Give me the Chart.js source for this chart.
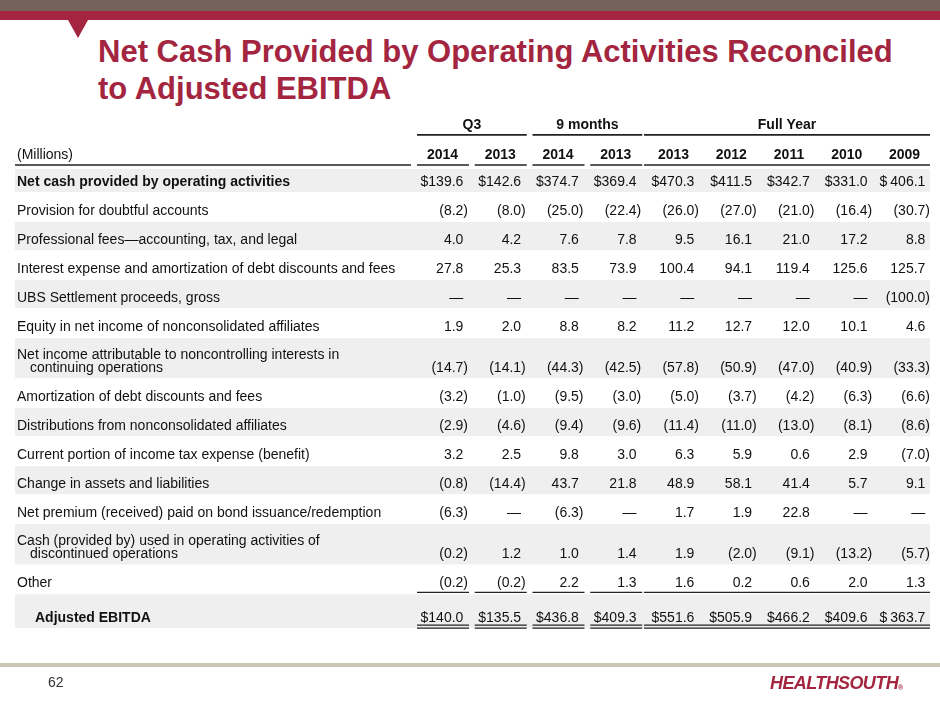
<!DOCTYPE html>
<html>
<head>
<meta charset="utf-8">
<script src="https://cdn.jsdelivr.net/npm/chart.js@4.4.0/dist/chart.umd.min.js"></script>
<style>
  body { margin:0; width:940px; height:705px; overflow:hidden; background:#fff; font-family:"Liberation Sans", Arial, sans-serif; }
  #topbar { position:absolute; left:0; top:0; width:940px; height:11px; background:#736259; }
  #redbar { position:absolute; left:0; top:11px; width:940px; height:9px; background:#a3253f; }
  #notch { position:absolute; left:68px; top:20px; width:0; height:0; border-left:10px solid transparent; border-right:10px solid transparent; border-top:18px solid #a3253f; }
  #title { position:absolute; left:98px; top:33px; font-weight:bold; font-size:31px; line-height:37px; color:#a3253f; white-space:nowrap; }
  #wrap { position:absolute; left:0; top:0; width:940px; height:705px; }
  #footbar { position:absolute; left:0; top:663px; width:940px; height:4px; background:#cdc6b6; }
  #page { position:absolute; left:48px; top:675px; font-size:14px; line-height:14px; color:#333; }
  #logo { position:absolute; left:770px; top:674px; font-size:18px; line-height:18px; font-weight:bold; font-style:italic; color:#a3253f; letter-spacing:-0.6px; }
  #logo span { font-size:7px; font-style:normal; vertical-align:-1px; }
</style>
</head>
<body>
<div id="topbar"></div>
<div id="redbar"></div>
<div id="notch"></div>
<div id="title">Net Cash Provided by Operating Activities Reconciled<br>to Adjusted EBITDA</div>
<div id="wrap"><canvas id="canvas"></canvas></div>
<div id="footbar"></div>
<div id="page">62</div>
<div id="logo">HEALTHSOUTH<span>®</span></div>
<script>

// column headers
let groups =     ['Q3', '9 months', 'Full Year'];
let groupSizes = [2, 2, 5];
let years = ['2014', '2013', '2014', '2013', '2013', '2012', '2011', '2010', '2009'];

// row labels (two-line labels are split in two)
let rowLabels = [
  ['Net cash provided by operating activities'],
  ['Provision for doubtful accounts'],
  ['Professional fees\u2014accounting, tax, and legal'],
  ['Interest expense and amortization of debt discounts and fees'],
  ['UBS Settlement proceeds, gross'],
  ['Equity in net income of nonconsolidated affiliates'],
  ['Net income attributable to noncontrolling interests in', 'continuing operations'],
  ['Amortization of debt discounts and fees'],
  ['Distributions from nonconsolidated affiliates'],
  ['Current portion of income tax expense (benefit)'],
  ['Change in assets and liabilities'],
  ['Net premium (received) paid on bond issuance/redemption'],
  ['Cash (provided by) used in operating activities of', 'discontinued operations'],
  ['Other'],
  ['Adjusted EBITDA']
];

// values in millions, null = dash
let netCash =        [139.6, 142.6, 374.7, 369.4, 470.3, 411.5, 342.7, 331.0, 406.1];
let provision =      [-8.2, -8.0, -25.0, -22.4, -26.0, -27.0, -21.0, -16.4, -30.7];
let profFees =       [4.0, 4.2, 7.6, 7.8, 9.5, 16.1, 21.0, 17.2, 8.8];
let interest =       [27.8, 25.3, 83.5, 73.9, 100.4, 94.1, 119.4, 125.6, 125.7];
let ubs =            [null, null, null, null, null, null, null, null, -100.0];
let equityIncome =   [1.9, 2.0, 8.8, 8.2, 11.2, 12.7, 12.0, 10.1, 4.6];
let nciIncome =      [-14.7, -14.1, -44.3, -42.5, -57.8, -50.9, -47.0, -40.9, -33.3];
let amortization =   [-3.2, -1.0, -9.5, -3.0, -5.0, -3.7, -4.2, -6.3, -6.6];
let distributions =  [-2.9, -4.6, -9.4, -9.6, -11.4, -11.0, -13.0, -8.1, -8.6];
let currentTax =     [3.2, 2.5, 9.8, 3.0, 6.3, 5.9, 0.6, 2.9, -7.0];
let assetsChange =   [-0.8, -14.4, 43.7, 21.8, 48.9, 58.1, 41.4, 5.7, 9.1];
let bondPremium =    [-6.3, null, -6.3, null, 1.7, 1.9, 22.8, null, null];
let discontinued =   [-0.2, 1.2, 1.0, 1.4, 1.9, -2.0, -9.1, -13.2, -5.7];
let other =          [-0.2, -0.2, 2.2, 1.3, 1.6, 0.2, 0.6, 2.0, 1.3];
let adjustedEbitda = [140.0, 135.5, 436.8, 409.3, 551.6, 505.9, 466.2, 409.6, 363.7];

let values = [netCash, provision, profFees, interest, ubs, equityIncome, nciIncome,
  amortization, distributions, currentTax, assetsChange, bondPremium, discontinued,
  other, adjustedEbitda];

let dollarRows = [0, 14];
let boldRows = [0, 14];
let totalRow = 14;

// vertical slot of each row: two-line rows and the total row take more room
let rowPos = [];
let p = 0;
for (let i = 0; i < rowLabels.length; i++) {
  if (i > 0) p += 1;
  if (rowLabels[i].length > 1) p += 0.42;
  if (i == totalRow) p += 0.2;
  rowPos.push(p);
}
let yearPos = -0.93;
let groupPos = -1.97;

let font = '"Liberation Sans", Arial, sans-serif';

function hline(ctx, x1, x2, y, w) {
  ctx.lineWidth = w;
  ctx.beginPath();
  ctx.moveTo(x1, y);
  ctx.lineTo(x2, y);
  ctx.stroke();
}

// underline under each value column; the Full Year block is one continuous line
function columnLines(ctx, xs, y, w) {
  let start = 0;
  for (let g = 0; g < groups.length; g++) {
    let end = start + groupSizes[g] - 1;
    if (g == groups.length - 1) {
      hline(ctx, xs(start) - 55, xs(end), y, w);
    } else {
      for (let j = start; j <= end; j++) hline(ctx, xs(j) - 51, xs(j) + 1, y, w);
    }
    start = end + 1;
  }
}

let tablePlugin = {
  id: 'tableText',
  beforeDatasetsDraw(chart) {
    let ctx = chart.ctx;
    let ys = v => chart.scales.y.getPixelForValue(v);
    let right = chart.chartArea.right;
    ctx.save();
    ctx.fillStyle = '#efefef';
    for (let i = 0; i < rowLabels.length; i += 2) {
      let top = i == 0 ? ys(yearPos) + 14 : ys(rowPos[i - 1]) + 11;
      let bottom = ys(rowPos[i]) + 10;
      ctx.fillRect(15, top, right - 15, bottom - top);
    }
    ctx.restore();
  },
  afterDatasetsDraw(chart) {
    let ctx = chart.ctx;
    let xs = v => chart.scales.x.getPixelForValue(v);
    let ys = v => chart.scales.y.getPixelForValue(v);
    ctx.save();
    ctx.fillStyle = '#111';
    ctx.strokeStyle = '#222';
    ctx.textBaseline = 'middle';

    // headers
    ctx.font = 'bold 14px ' + font;
    ctx.textAlign = 'center';
    let start = 0;
    for (let g = 0; g < groups.length; g++) {
      let end = start + groupSizes[g] - 1;
      let last = g == groups.length - 1;
      let x1 = xs(start) - (last ? 55 : 51);
      let x2 = xs(end) + (last ? 0 : 1);
      ctx.fillText(groups[g], (x1 + x2) / 2, ys(groupPos));
      hline(ctx, x1, x2, ys(groupPos) + 10, 1.6);
      start = end + 1;
    }
    for (let j = 0; j < years.length; j++) {
      ctx.fillText(years[j], xs(j) - 25.5, ys(yearPos));
    }
    columnLines(ctx, xs, ys(yearPos) + 10, 1.6);
    hline(ctx, 15, 411, ys(yearPos) + 10, 1.6);
    ctx.textAlign = 'left';
    ctx.font = '14px ' + font;
    ctx.fillText('(Millions)', 17, ys(yearPos));

    // row labels
    for (let i = 0; i < rowLabels.length; i++) {
      let y = ys(rowPos[i]);
      let x = i == totalRow ? 35 : 17;
      ctx.font = (boldRows.includes(i) ? 'bold ' : '') + '14px ' + font;
      let lines = rowLabels[i];
      if (lines.length > 1) {
        ctx.fillText(lines[0], x, y - 13.5);
        ctx.fillText(lines[1], x + 13, y);
      } else {
        ctx.fillText(lines[0], x, y);
      }
    }

    // values, one dataset per column
    ctx.font = '14px ' + font;
    let parenW = ctx.measureText(')').width;
    chart.data.datasets.forEach((ds, j) => {
      let meta = chart.getDatasetMeta(j);
      meta.data.forEach((pt, i) => {
        let v = values[i][j];
        ctx.textAlign = 'right';
        if (v === null) {
          ctx.fillText('\u2014', pt.x - parenW, pt.y);
          return;
        }
        let num = Math.abs(v).toFixed(1);
        if (v < 0) {
          ctx.fillText('(' + num + ')', pt.x, pt.y);
        } else {
          ctx.fillText(num, pt.x - parenW, pt.y);
          if (dollarRows.includes(i)) {
            let gap = j == years.length - 1 ? 3 : 0;
            ctx.fillText('$', pt.x - parenW - ctx.measureText(num).width - gap, pt.y);
          }
        }
      });
    });

    // single rule above the total, double rule below it
    columnLines(ctx, xs, ys(rowPos[totalRow - 1]) + 9, 1.4);
    columnLines(ctx, xs, ys(rowPos[totalRow]) + 7, 1.3);
    columnLines(ctx, xs, ys(rowPos[totalRow]) + 10, 1.3);
    ctx.restore();
  }
};

let datasets = years.map((yr, j) => ({
  label: yr,
  data: rowPos.map(rp => ({ x: j, y: rp })),
  pointRadius: 0,
  showLine: false
}));

let options = {
  type: 'scatter',
  data: { datasets: datasets },
  options: {
    responsive: true,
    maintainAspectRatio: false,
    animation: false,
    events: [],
    layout: { padding: { left: 468, right: 10, top: 124, bottom: 59 } },
    scales: {
      x: { type: 'linear', min: 0, max: 8, display: false },
      y: { type: 'linear', min: -2, max: 16, reverse: true, display: false }
    },
    plugins: {
      legend: { display: false },
      tooltip: { enabled: false }
    }
  },
  plugins: [tablePlugin]
};

let chart = new Chart(document.getElementById('canvas'), options);
</script>
</body>
</html>
